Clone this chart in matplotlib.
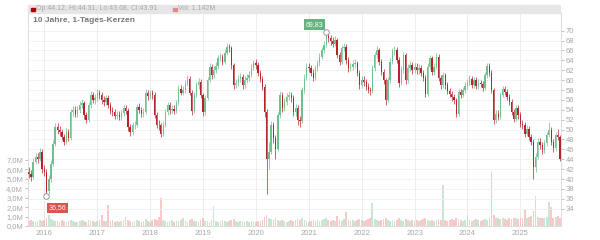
import numpy as np
import pandas as pd
import matplotlib
matplotlib.use('Agg')
import matplotlib.pyplot as plt
from matplotlib.patches import Rectangle

plt.rcParams['font.family'] = ['Liberation Sans', 'DejaVu Sans']

# semi-monthly candles
dates = pd.date_range('2015-09-15', '2025-10-01', freq='SMS')
first_open = 41.5
close = [41.0, 40.5, 43.5, 44.5, 44.0, 45.5, 42.0, 41.5, 37.5, 40.0,
         43.0, 47.0, 50.5, 50.0, 49.5, 48.5, 47.5, 49.5, 48.2, 53.5,
         54.0, 53.2, 54.0, 55.0, 55.3, 52.9, 52.0, 54.9, 57.0, 56.0,
         56.3, 57.5, 57.0, 56.0, 55.5, 56.3, 55.0, 53.8, 53.5, 52.8,
         53.0, 52.6, 53.3, 54.3, 53.8, 50.5, 49.5, 50.9, 51.0, 54.5,
         54.0, 53.2, 53.6, 57.5, 56.8, 57.3, 57.0, 53.0, 51.0, 50.9,
         49.2, 51.0, 53.5, 54.9, 53.9, 54.2, 53.8, 55.3, 58.3, 57.5,
         58.0, 59.3, 60.3, 57.5, 53.8, 57.0, 59.0, 59.7, 57.0, 53.5,
         56.3, 60.0, 62.7, 61.0, 62.0, 62.8, 64.4, 64.7, 63.7, 65.5,
         66.8, 66.5, 63.0, 59.0, 59.5, 60.3, 60.7, 59.0, 60.0, 60.5,
         61.0, 62.5, 63.4, 63.0, 61.5, 60.3, 58.7, 53.6, 44.0, 45.5,
         50.9, 48.2, 46.0, 52.9, 57.0, 54.3, 55.6, 56.5, 57.0, 56.3,
         53.5, 54.3, 52.0, 51.8, 58.0, 60.5, 62.7, 62.5, 61.5, 60.5,
         62.4, 63.4, 64.7, 66.0, 67.2, 69.0, 68.5, 68.0, 67.4, 68.1,
         65.1, 63.7, 66.4, 66.8, 64.0, 62.4, 62.7, 63.2, 63.4, 61.5,
         59.0, 60.0, 59.7, 58.7, 58.0, 57.8, 62.4, 65.0, 66.1, 63.7,
         61.7, 60.0, 56.0, 60.0, 63.7, 65.8, 66.1, 64.1, 59.5, 62.0,
         65.0, 60.0, 62.5, 63.1, 62.0, 62.7, 62.0, 62.4, 61.5, 60.5,
         57.2, 62.7, 64.4, 61.7, 62.7, 64.7, 60.5, 59.0, 61.0, 59.0,
         57.8, 57.2, 56.5, 55.9, 53.2, 57.6, 57.0, 58.0, 58.8, 59.5,
         60.3, 59.0, 60.0, 58.9, 59.5, 59.3, 58.5, 61.0, 62.8, 61.5,
         58.0, 52.0, 53.2, 52.6, 57.0, 58.2, 57.6, 56.6, 55.6, 53.6,
         52.2, 54.3, 52.9, 51.2, 50.9, 49.2, 50.2, 48.5, 47.5, 42.5,
         44.5, 47.5, 46.8, 45.8, 47.2, 48.9, 50.0, 47.5, 46.2, 48.9,
         48.5, 44.0]
high = [42.4, 41.8, 44.3, 45.3, 45.2, 46.3, 46.0, 42.9, 42.0, 40.8,
        43.8, 47.8, 51.4, 51.3, 50.8, 50.2, 49.2, 50.3, 50.2, 54.2,
        54.8, 54.7, 54.8, 55.8, 56.1, 55.8, 53.6, 55.6, 57.8, 57.7,
        57.1, 58.2, 58.1, 57.6, 56.8, 57.0, 56.9, 55.6, 54.5, 54.1,
        53.8, 53.7, 54.0, 55.0, 55.0, 54.3, 51.2, 51.6, 51.8, 55.2,
        55.3, 54.6, 54.4, 58.2, 58.0, 58.1, 58.0, 57.6, 53.6, 51.9,
        51.4, 51.7, 54.2, 55.6, 55.5, 55.0, 54.9, 56.0, 59.0, 59.0,
        58.8, 60.0, 61.0, 60.8, 58.0, 57.7, 59.7, 60.5, 60.2, 57.5,
        57.0, 60.7, 63.4, 63.2, 62.8, 63.6, 65.1, 65.5, 65.3, 66.2,
        67.5, 67.3, 67.0, 63.5, 60.3, 61.0, 61.5, 61.3, 60.8, 61.3,
        61.8, 63.2, 64.1, 64.2, 63.6, 62.1, 60.9, 59.2, 54.2, 47.5,
        51.8, 51.5, 49.0, 53.6, 57.8, 57.6, 56.4, 57.3, 57.8, 57.7,
        56.9, 55.1, 54.9, 52.8, 58.7, 61.2, 63.4, 63.5, 63.1, 62.2,
        63.1, 64.1, 65.4, 66.8, 68.0, 69.83, 69.5, 69.2, 68.7, 68.9,
        68.6, 65.7, 67.1, 67.5, 67.3, 64.6, 63.5, 64.0, 64.2, 63.9,
        62.0, 60.8, 60.8, 60.3, 59.4, 58.7, 63.1, 65.7, 66.9, 66.6,
        64.3, 62.3, 60.5, 60.7, 64.4, 66.5, 66.9, 66.7, 64.6, 62.8,
        65.7, 65.5, 63.2, 63.9, 63.7, 63.5, 63.4, 63.2, 63.0, 62.1,
        61.0, 63.4, 65.1, 64.9, 63.5, 65.4, 65.2, 61.1, 61.7, 61.5,
        59.6, 58.5, 57.9, 57.2, 56.4, 58.3, 58.3, 58.7, 59.6, 60.2,
        61.0, 60.9, 60.7, 60.6, 60.2, 60.1, 59.9, 61.7, 63.5, 63.4,
        62.0, 58.5, 53.9, 54.0, 57.7, 58.9, 58.8, 58.2, 57.2, 56.1,
        54.2, 55.0, 54.9, 53.5, 51.9, 51.5, 50.9, 50.7, 49.1, 48.0,
        45.3, 48.2, 48.2, 47.4, 47.9, 49.6, 51.6, 50.5, 48.1, 49.6,
        50.2, 48.9]
low = [40.2, 39.6, 40.0, 43.0, 43.2, 43.6, 41.2, 40.6, 36.56, 37.0,
       39.5, 42.6, 46.6, 49.2, 48.7, 47.8, 46.9, 47.0, 47.6, 47.9,
       52.8, 52.5, 52.6, 53.4, 54.3, 52.2, 51.4, 51.6, 54.4, 55.3,
       55.2, 55.8, 56.2, 55.2, 54.8, 54.9, 54.3, 53.1, 52.8, 52.1,
       52.2, 51.9, 52.0, 52.8, 53.1, 49.8, 48.8, 49.0, 50.2, 50.6,
       53.3, 52.5, 52.6, 53.2, 56.0, 56.2, 56.2, 52.3, 50.3, 50.0,
       48.6, 48.7, 50.6, 53.0, 53.2, 53.3, 53.1, 53.3, 54.9, 56.9,
       56.9, 57.5, 58.8, 56.9, 53.0, 53.3, 56.5, 58.3, 56.3, 52.8,
       53.0, 55.9, 59.6, 60.3, 60.5, 61.4, 62.3, 63.8, 63.0, 63.2,
       65.0, 65.7, 62.3, 58.3, 58.4, 58.9, 59.7, 58.3, 58.5, 59.4,
       59.9, 60.6, 62.0, 62.3, 60.8, 59.6, 58.0, 52.5, 37.0, 42.0,
       45.0, 47.2, 44.0, 45.6, 52.4, 53.6, 53.8, 55.0, 55.9, 55.6,
       52.8, 52.8, 50.9, 50.6, 51.3, 57.5, 60.0, 61.7, 60.8, 59.8,
       60.0, 61.9, 62.9, 64.2, 65.5, 66.8, 67.7, 67.2, 66.7, 66.9,
       64.4, 63.0, 63.2, 65.8, 63.3, 61.7, 61.8, 62.1, 62.5, 60.8,
       58.2, 58.4, 58.9, 58.0, 57.3, 57.0, 57.3, 61.9, 64.4, 63.0,
       61.0, 59.3, 54.9, 55.5, 59.5, 63.2, 65.1, 63.4, 58.7, 59.0,
       61.5, 59.2, 59.5, 61.9, 61.3, 61.4, 61.3, 61.3, 60.8, 59.8,
       56.6, 56.8, 62.2, 61.0, 61.1, 62.2, 59.8, 58.3, 58.5, 58.3,
       57.1, 56.5, 55.8, 55.2, 52.5, 52.8, 56.3, 56.5, 57.4, 58.2,
       59.0, 58.4, 58.5, 58.2, 58.3, 58.6, 57.9, 58.0, 60.5, 60.8,
       57.3, 51.2, 51.4, 51.9, 52.1, 56.5, 56.9, 55.9, 54.9, 52.9,
       51.5, 51.7, 52.2, 50.5, 50.1, 48.5, 48.7, 47.8, 46.8, 40.0,
       41.5, 44.0, 46.0, 45.0, 45.3, 46.7, 48.4, 46.8, 45.5, 45.7,
       47.8, 43.6]
# volume in millions per candle
volume = [0.5, 0.6, 0.5, 0.4, 0.5, 0.6, 0.5, 0.6, 0.8, 1.2,
          0.7, 0.6, 0.5, 0.5, 0.4, 0.6, 0.5, 0.4, 0.5, 0.6,
          0.5, 0.4, 0.4, 0.5, 0.6, 0.5, 0.4, 0.6, 0.5, 0.5,
          0.4, 0.5, 0.6, 1.2, 0.5, 0.5, 2.2, 0.5, 0.6, 0.4,
          0.5, 0.4, 0.5, 0.6, 1.0, 0.6, 0.5, 0.4, 0.5, 0.6,
          0.5, 0.4, 0.5, 0.7, 0.5, 0.4, 0.6, 0.7, 0.6, 1.0,
          3.0, 0.6, 0.5, 0.4, 0.5, 0.6, 0.4, 0.5, 0.5, 0.6,
          0.9, 0.5, 0.4, 0.6, 0.7, 0.5, 0.5, 0.4, 0.6, 0.8,
          0.5, 0.5, 0.4, 0.6, 2.1, 0.5, 0.4, 0.5, 0.6, 0.5,
          0.4, 0.5, 0.6, 0.7, 0.5, 0.4, 0.5, 0.5, 0.4, 0.5,
          0.4, 0.5, 0.5, 0.4, 0.5, 0.5, 0.6, 1.0, 1.2, 0.9,
          0.7, 0.6, 0.8, 0.6, 0.5, 0.6, 0.5, 0.4, 0.5, 0.6,
          0.5, 0.6, 0.7, 0.6, 0.8, 0.6, 0.5, 0.4, 0.5, 0.6,
          0.5, 0.6, 0.5, 0.6, 0.7, 0.8, 0.6, 0.5, 0.6, 0.5,
          1.1, 0.6, 0.5, 0.7, 1.5, 0.6, 0.5, 0.6, 0.5, 0.6,
          0.7, 0.6, 0.5, 0.6, 0.7, 0.8, 2.4, 0.7, 0.6, 0.5,
          0.6, 0.7, 0.9, 0.6, 0.5, 0.6, 0.5, 0.6, 0.8, 0.6,
          0.5, 0.7, 0.6, 0.5, 0.6, 0.5, 0.6, 0.5, 0.6, 0.7,
          0.9, 0.6, 0.5, 0.6, 0.5, 0.6, 0.7, 0.6, 4.3, 0.6,
          0.5, 0.6, 0.7, 0.6, 0.8, 0.7, 0.6, 0.5, 0.6, 1.2,
          0.6, 0.5, 0.6, 0.7, 0.6, 0.5, 0.6, 0.7, 0.6, 0.8,
          5.8, 1.2, 0.9, 0.8, 0.7, 0.8, 0.7, 0.6, 0.8, 0.7,
          0.9, 0.8, 0.7, 0.8, 0.9, 1.8, 0.9, 1.0, 1.1, 1.6,
          3.2, 1.0, 0.9, 0.8, 0.9, 1.0, 2.5, 2.0, 0.9, 1.0,
          1.1, 0.9]

years = list(range(2016, 2026))
price_ticks = list(range(34, 71, 2))
vol_ticks = list(range(0, 8))

RED = '#b8232b'
GREEN = '#6fbf90'
GREY = '#a8a8a8'

opens = np.array([first_open] + close[:-1])
c = np.array(close)
up = c >= opens
cols = np.where(up, GREEN, RED)
vcols = np.where(up, '#a6d6b9', '#f3a8a8')

fig = plt.figure(figsize=(6, 2.4), dpi=100)
axv = fig.add_axes([28 / 600, 14 / 240, 533 / 600, 213 / 240])
axp = axv.twinx()

# volume (left axis)
axv.bar(dates, volume, width=12, color=vcols, alpha=0.6, linewidth=0, zorder=2)
axv.set_ylim(0, 213 / 9.43)
axv.set_yticks(vol_ticks)
axv.set_yticklabels(['%d,0M' % v for v in vol_ticks])

# candles (right axis)
axp.vlines(dates, low, high, colors=cols, linewidth=0.5, zorder=3)
axp.bar(dates, c - opens, bottom=opens, width=9, color=cols, linewidth=0, zorder=4)
axp.set_ylim(30.5, 73.58)
axp.set_yticks(price_ticks)
axp.set_yticklabels([str(p) for p in price_ticks])
axp.grid(axis='y', color='#f0f0f0', linewidth=0.6, zorder=0)

axv.set_xlim(pd.Timestamp('2015-09-10'), pd.Timestamp('2025-10-08'))
xt = [pd.Timestamp('%d-01-01' % y) for y in years]
axv.set_xticks(xt)
axv.set_xticklabels([str(y) for y in years])
axv.grid(axis='x', color='#ececec', linewidth=0.7, zorder=0)
axv.set_axisbelow(True)

for a in (axv, axp):
    for s in a.spines.values():
        s.set_color('#dddddd')
        s.set_linewidth(0.6)
    a.spines['top'].set_visible(False)
    a.tick_params(colors=GREY, labelsize=5.5, length=2, width=0.5, pad=1.5)
axv.tick_params(axis='x', length=0, pad=3)

# min / max markers
i_lo = int(np.argmin(low))
i_hi = int(np.argmax(high))
axp.plot(dates[i_lo], low[i_lo], 'o', ms=4, mfc='white', mec='#888888', mew=0.6, zorder=6)
axp.plot(dates[i_hi], high[i_hi], 'o', ms=4, mfc='white', mec='#888888', mew=0.6, zorder=6)
axp.annotate(('%.2f' % low[i_lo]).replace('.', ','), (dates[i_lo], low[i_lo]),
             xytext=(8, -8.5), textcoords='offset points', ha='center', va='center',
             fontsize=5, color='white', zorder=7,
             bbox=dict(boxstyle='square,pad=0.25', fc='#d9534f', ec='none'))
axp.annotate(('%.2f' % high[i_hi]).replace('.', ','), (dates[i_hi], high[i_hi]),
             xytext=(-8.5, 5), textcoords='offset points', ha='center', va='center',
             fontsize=5, color='white', zorder=7,
             bbox=dict(boxstyle='square,pad=0.25', fc='#5cb87e', ec='none'))

# header strip
fig.patches.append(Rectangle((28 / 600, 1 - 13 / 240), 532 / 600, 8 / 240,
                             transform=fig.transFigure, color='#e6e6e6', zorder=0))
fig.patches.append(Rectangle((31 / 600, 1 - 11 / 240), 3.5 / 600, 3.5 / 240,
                             transform=fig.transFigure, color='#b00000', zorder=1))
fig.patches.append(Rectangle((173 / 600, 1 - 11 / 240), 3.5 / 600, 3.5 / 240,
                             transform=fig.transFigure, color='#e08a8a', zorder=1))
fig.text(36 / 600, 1 - 9 / 240, 'Op:44.12, Hi:44.31, Lo:43.68, Cl:43.91',
         fontsize=5, color=GREY, va='center')
fig.text(178 / 600, 1 - 9 / 240, 'Vol: 1.142M', fontsize=5, color=GREY, va='center')
fig.text(33 / 600, 1 - 20 / 240, '10 Jahre, 1-Tages-Kerzen', fontsize=6,
         fontweight='bold', color='#777777', va='center')

fig.savefig('out.png', dpi=100, facecolor='white')
